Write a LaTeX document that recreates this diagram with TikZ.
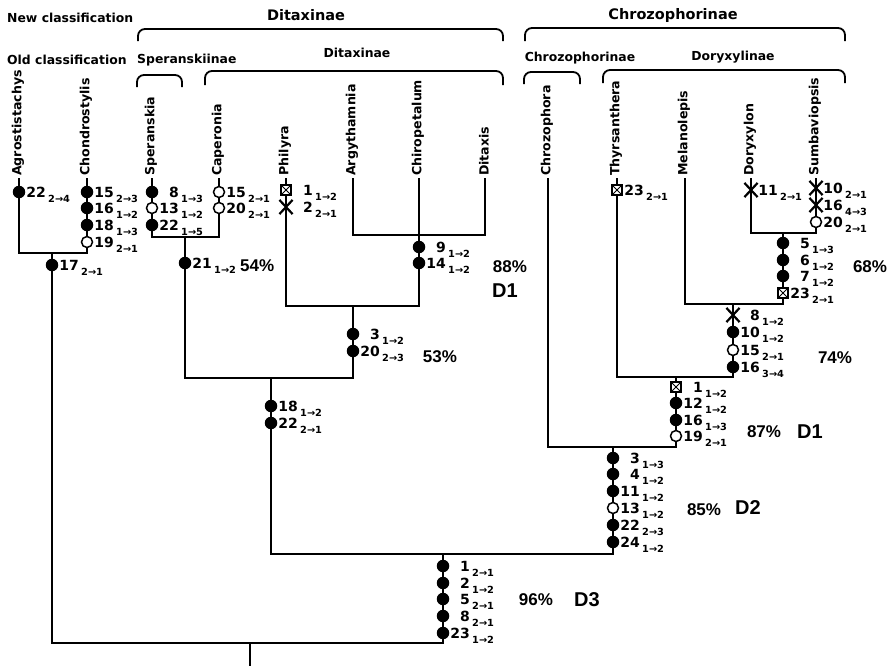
\documentclass[tikz,border=0pt]{standalone}
\usepackage{fontspec}
\setmainfont{DejaVu Sans}
\newfontfamily\libsans{Liberation Sans}
\usetikzlibrary{shapes.misc}
\newcounter{mk}
\tikzset{
  tree/.style={line width=2pt, line cap=rect},
  brk/.style={line width=1.8pt, rounded corners=7pt},
  fdot/.style={circle, fill=black, inner sep=0pt, minimum size=12.5pt},
  odot/.style={circle, draw=black, fill=white, line width=1.5pt, inner sep=0pt, minimum size=11pt},
  xmk/.style={cross out, draw=black, line width=2.2pt, inner sep=0pt, minimum width=11pt, minimum height=12pt},
  bmk/.style={rectangle, draw=black, fill=white, line width=1.1pt, inner sep=0pt, minimum size=10pt,
    path picture={\draw[line width=0.9pt] (path picture bounding box.north west) -- (path picture bounding box.south east)
      (path picture bounding box.north east) -- (path picture bounding box.south west);}},
  numtxt/.style={inner sep=0pt, font=\bfseries\fontsize{14}{16}\selectfont},
  subtxt/.style={inner sep=0pt, font=\bfseries\fontsize{9.8}{11}\selectfont},
  taxon/.style={inner sep=0pt, rotate=90, anchor=west, font=\bfseries\fontsize{12.6}{14}\selectfont},
  head/.style={inner sep=0pt, font=\bfseries\fontsize{14.5}{16}\selectfont},
  head2/.style={inner sep=0pt, font=\bfseries\fontsize{12.4}{14}\selectfont},
  pct/.style={inner sep=0pt, font=\libsans\bfseries\fontsize{17}{19}\selectfont},
  dlab/.style={inner sep=0pt, font=\libsans\bfseries\fontsize{20}{22}\selectfont},
}
\newcommand\chmark[5]{%
  \stepcounter{mk}%
  \node[#1] (m\arabic{mk}) at (#2,#3) {};
  \node[numtxt, anchor=east] (n\arabic{mk}) at (#2+27,#3) {#4};
  \node[subtxt, anchor=west] (s\arabic{mk}) at (#2+29,#3+7) {#5};
}
\begin{document}
\begin{tikzpicture}[x=1pt, y=-1pt]
\useasboundingbox (0,0) rectangle (890,665);
% headers
\node[head2, anchor=west] (hnew) at (7,18) {New classification};
\node[head] (hdit) at (306,15) {Ditaxinae};
\node[head] (hchr) at (673,15) {Chrozophorinae};
\node[head2, anchor=west] (hold) at (7,60) {Old classification};
\node[head2, anchor=west] (hspe) at (137,60) {Speranskiinae};
\node[head2] (hdit2) at (357,53) {Ditaxinae};
\node[head2] (hchr2) at (580,58) {Chrozophorinae};
\node[head2] (hdor) at (733,57) {Doryxylinae};
% brackets
\draw[brk] (138,41) -- (138,29) -- (503,29) -- (503,41);
\draw[brk] (525,41) -- (525,28) -- (845,28) -- (845,41);
\draw[brk] (137,87) -- (137,75) -- (182,75) -- (182,87);
\draw[brk] (205,85) -- (205,71) -- (503,71) -- (503,85);
\draw[brk] (524,84) -- (524,72) -- (580,72) -- (580,84);
\draw[brk] (603,83) -- (603,70) -- (845,70) -- (845,83);
% taxa
\node[taxon] (lA) at (18,176) {Agrostistachys};
\node[taxon] (lC) at (86,176) {Chondrostylis};
\node[taxon] (lS) at (151,176) {Speranskia};
\node[taxon] (lCa) at (218,176) {Caperonia};
\node[taxon] (lP) at (285,176) {Philyra};
\node[taxon] (lAr) at (352,176) {Argythamnia};
\node[taxon] (lCh) at (418,176) {Chiropetalum};
\node[taxon] (lDi) at (484,176) {Ditaxis};
\node[taxon] (lCz) at (547,176) {Chrozophora};
\node[taxon] (lT) at (616,176) {Thyrsanthera};
\node[taxon] (lM) at (684,176) {Melanolepis};
\node[taxon] (lDo) at (750,176) {Doryxylon};
\node[taxon] (lSu) at (815,176) {Sumbaviopsis};
% tree coordinates
\coordinate (tA) at (19,179);
\coordinate (tC) at (87,179);
\coordinate (tS) at (152,179);
\coordinate (tCa) at (219,179);
\coordinate (tP) at (286,179);
\coordinate (tAr) at (353,179);
\coordinate (tCh) at (419,179);
\coordinate (tDi) at (485,179);
\coordinate (tCz) at (548,179);
\coordinate (tT) at (617,179);
\coordinate (tM) at (685,179);
\coordinate (tDo) at (751,179);
\coordinate (tSu) at (816,179);
\coordinate (c1) at (52,253);
\coordinate (c2) at (185,237);
\coordinate (c3) at (419,235);
\coordinate (c4) at (353,306);
\coordinate (c5) at (271,378);
\coordinate (c6) at (783,233);
\coordinate (c7) at (733,304);
\coordinate (c8) at (676,377);
\coordinate (c9) at (613,447);
\coordinate (c10) at (443,554);
\coordinate (cr) at (250,643);
\coordinate (rb) at (250,665);
% edges
\draw[tree] (tA) |- (c1);
\draw[tree] (tC) |- (c1);
\draw[tree] (tS) |- (c2);
\draw[tree] (tCa) |- (c2);
\draw[tree] (tAr) |- (c3);
\draw[tree] (tCh) |- (c3);
\draw[tree] (tDi) |- (c3);
\draw[tree] (tP) |- (c4);
\draw[tree] (c3) |- (c4);
\draw[tree] (c2) |- (c5);
\draw[tree] (c4) |- (c5);
\draw[tree] (tDo) |- (c6);
\draw[tree] (tSu) |- (c6);
\draw[tree] (tM) |- (c7);
\draw[tree] (c6) |- (c7);
\draw[tree] (tT) |- (c8);
\draw[tree] (c7) |- (c8);
\draw[tree] (tCz) |- (c9);
\draw[tree] (c8) |- (c9);
\draw[tree] (c5) |- (c10);
\draw[tree] (c9) |- (c10);
\draw[tree] (c1) |- (cr);
\draw[tree] (c10) |- (cr);
\draw[tree] (cr) -- (rb);
% characters
\chmark{fdot}{19}{192}{22}{2→4}
\chmark{fdot}{87}{192}{15}{2→3}
\chmark{fdot}{87}{208}{16}{1→2}
\chmark{fdot}{87}{225}{18}{1→3}
\chmark{odot}{87}{242}{19}{2→1}
\chmark{fdot}{52}{265}{17}{2→1}
\chmark{fdot}{152}{192}{8}{1→3}
\chmark{odot}{152}{208}{13}{1→2}
\chmark{fdot}{152}{225}{22}{1→5}
\chmark{odot}{219}{192}{15}{2→1}
\chmark{odot}{219}{208}{20}{2→1}
\chmark{fdot}{185}{263}{21}{1→2}
\chmark{bmk}{286}{190}{1}{1→2}
\chmark{xmk}{286}{207}{2}{2→1}
\chmark{fdot}{419}{247}{9}{1→2}
\chmark{fdot}{419}{263}{14}{1→2}
\chmark{fdot}{353}{334}{3}{1→2}
\chmark{fdot}{353}{351}{20}{2→3}
\chmark{fdot}{271}{406}{18}{1→2}
\chmark{fdot}{271}{423}{22}{2→1}
\chmark{bmk}{617}{190}{23}{2→1}
\chmark{xmk}{751}{190}{11}{2→1}
\chmark{xmk}{816}{188}{10}{2→1}
\chmark{xmk}{816}{205}{16}{4→3}
\chmark{odot}{816}{222}{20}{2→1}
\chmark{fdot}{783}{243}{5}{1→3}
\chmark{fdot}{783}{260}{6}{1→2}
\chmark{fdot}{783}{276}{7}{1→2}
\chmark{bmk}{783}{293}{23}{2→1}
\chmark{xmk}{733}{315}{8}{1→2}
\chmark{fdot}{733}{332}{10}{1→2}
\chmark{odot}{733}{350}{15}{2→1}
\chmark{fdot}{733}{367}{16}{3→4}
\chmark{bmk}{676}{387}{1}{1→2}
\chmark{fdot}{676}{403}{12}{1→2}
\chmark{fdot}{676}{420}{16}{1→3}
\chmark{odot}{676}{436}{19}{2→1}
\chmark{fdot}{613}{458}{3}{1→3}
\chmark{fdot}{613}{474}{4}{1→2}
\chmark{fdot}{613}{491}{11}{1→2}
\chmark{odot}{613}{508}{13}{1→2}
\chmark{fdot}{613}{525}{22}{2→3}
\chmark{fdot}{613}{542}{24}{1→2}
\chmark{fdot}{443}{566}{1}{2→1}
\chmark{fdot}{443}{583}{2}{1→2}
\chmark{fdot}{443}{599}{5}{2→1}
\chmark{fdot}{443}{616}{8}{2→1}
\chmark{fdot}{443}{633}{23}{1→2}
% support values
\node[pct, anchor=west] (p54) at (240,266) {54\%};
\node[pct] (p88) at (510,267) {88\%};
\node[dlab] (d1a) at (505,291) {D1};
\node[pct] (p53) at (440,357) {53\%};
\node[pct] (p68) at (870,267) {68\%};
\node[pct] (p74) at (835,358) {74\%};
\node[pct] (p87) at (764,432) {87\%};
\node[dlab] (d1b) at (810,432) {D1};
\node[pct] (p85) at (704,510) {85\%};
\node[dlab] (d2) at (748,508) {D2};
\node[pct] (p96) at (536,600) {96\%};
\node[dlab] (d3) at (587,600) {D3};
\end{tikzpicture}
\end{document}
